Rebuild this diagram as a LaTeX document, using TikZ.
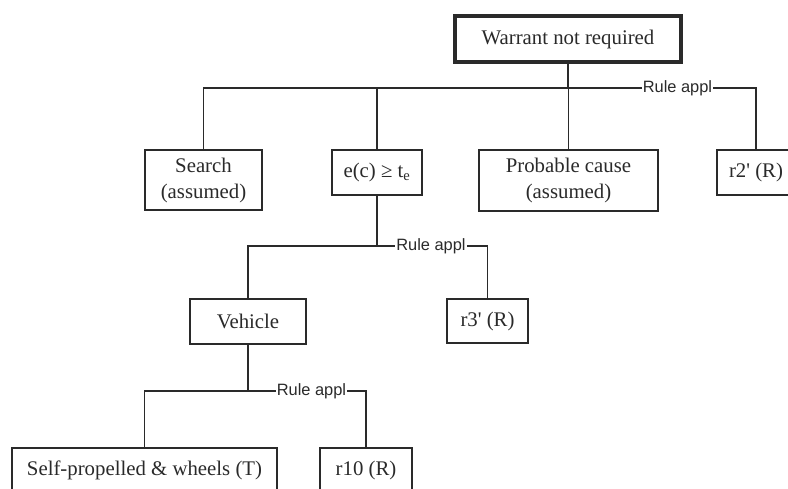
\documentclass[tikz,border=0pt]{standalone}
\usepackage{fontspec}
\setmainfont{Liberation Serif}
\newfontfamily\labfont{Liberation Sans}
\definecolor{ink}{HTML}{2A2A2A}
\newcommand{\pr}{\textquotesingle}
\begin{document}
\begin{tikzpicture}[x=1pt,y=-1pt,
  box/.style={draw=ink, text=ink, line width=1.5pt, inner sep=0pt, align=center,
     font=\fontsize{20.8}{26}\selectfont, minimum height=45pt},
  rootbox/.style={box, line width=3.2pt},
  lab/.style={text=ink, inner xsep=1pt, inner ysep=0pt, font=\labfont\fontsize{16.4}{18}\selectfont},
  conn/.style={draw=ink, line width=1.5pt},
  stem/.style={draw=ink, line width=2.6pt}]
\clip (0,0) rectangle (788,488);
\fill[white] (0,0) rectangle (788,488);
% nodes
\node[rootbox, minimum width=226pt, minimum height=46pt] (root) at (568,39) {Warrant not required};
\node[box, minimum width=117pt, minimum height=60pt] (search) at (203.5,180) {Search\\(assumed)};
\node[box, minimum width=90pt] (ec) at (377,172.5) {e(c) ≥ t\textsubscript{e}};
\node[box, minimum width=179pt, minimum height=61pt] (prob) at (568.5,180.5) {Probable cause\\(assumed)};
\node[box, minimum width=78pt] (r2) at (756,172.5) {r2\pr{} (R)};
\node[box, minimum width=116pt] (veh) at (248,321.5) {Vehicle};
\node[box, minimum width=81pt, minimum height=44pt] (r3) at (487.5,321) {r3\pr{} (R)};
\node[box, minimum width=265pt] (self) at (144.5,470.5) {Self-propelled \& wheels (T)};
\node[box, minimum width=92pt] (r10) at (366,470.5) {r10 (R)};
% rule labels
\node[lab] (lab1) at (677.5,88) {Rule appl};
\node[lab] (lab2) at (431,246) {Rule appl};
\node[lab] (lab3) at (311.5,391) {Rule appl};
% level 1
\draw[stem] (root.south) -- (root.south |- lab1.west);
\draw[conn] (search.north) |- (lab1.west);
\draw[conn] (ec.north) -- (ec.north |- lab1.west);
\draw[conn] (prob.north) -- (prob.north |- lab1.west);
\draw[conn] (lab1.east) -| (r2.north);
% level 2
\draw[stem] (ec.south) -- (ec.south |- lab2.west);
\draw[conn] (veh.north) |- (lab2.west);
\draw[conn] (lab2.east) -| (r3.north);
% level 3
\draw[conn] (veh.south) -- (veh.south |- lab3.west);
\draw[conn] (self.north) |- (lab3.west);
\draw[conn] (lab3.east) -| (r10.north);
\end{tikzpicture}
\end{document}
